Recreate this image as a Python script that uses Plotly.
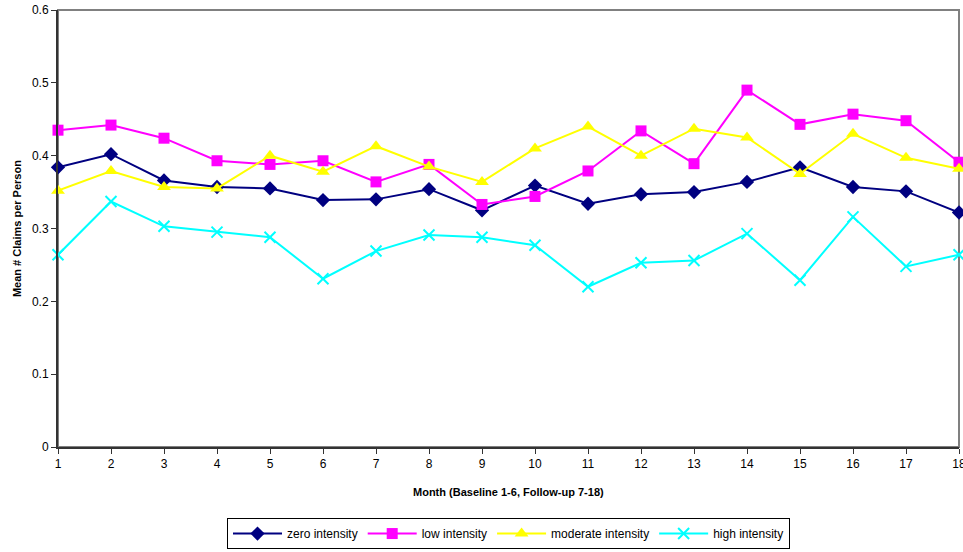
import plotly.graph_objects as go

# Months 1-18 (baseline 1-6, follow-up 7-18)
months = list(range(1, 19))

zero_intensity = [0.384, 0.402, 0.366, 0.357, 0.355, 0.339, 0.340, 0.354, 0.325,
                  0.359, 0.334, 0.347, 0.350, 0.364, 0.384, 0.357, 0.351, 0.322]
low_intensity = [0.435, 0.442, 0.424, 0.393, 0.388, 0.393, 0.364, 0.388, 0.333,
                 0.344, 0.379, 0.434, 0.389, 0.490, 0.443, 0.457, 0.448, 0.391]
moderate_intensity = [0.352, 0.379, 0.357, 0.355, 0.400, 0.378, 0.413, 0.385, 0.364,
                      0.410, 0.440, 0.400, 0.437, 0.425, 0.375, 0.430, 0.397, 0.382]
high_intensity = [0.264, 0.337, 0.303, 0.295, 0.288, 0.231, 0.269, 0.291, 0.288,
                  0.277, 0.220, 0.253, 0.256, 0.293, 0.229, 0.316, 0.248, 0.264]

y_ticks = [0, 0.1, 0.2, 0.3, 0.4, 0.5, 0.6]
y_tick_labels = ["0", "0.1", "0.2", "0.3", "0.4", "0.5", "0.6"]

series = [
    ("zero intensity", zero_intensity, "#000080", "diamond", 11),
    ("low intensity", low_intensity, "#FF00FF", "square", 11),
    ("moderate intensity", moderate_intensity, "#FFFF00", "triangle-up", 12),
    ("high intensity", high_intensity, "#00FFFF", "x-thin-open", 11),
]

FONT = "Liberation Sans, Arial, sans-serif"

fig = go.Figure()
for name, vals, color, symbol, size in series:
    marker = dict(symbol=symbol, size=size, color=color)
    if symbol == "x-thin-open":
        marker["line"] = dict(color=color, width=2)
    fig.add_trace(go.Scatter(
        x=months, y=vals, name=name, mode="lines+markers",
        line=dict(color=color, width=2),
        marker=marker, cliponaxis=False,
    ))

fig.update_layout(
    width=963, height=552,
    margin=dict(l=58, r=4, t=10, b=105, autoexpand=False),
    paper_bgcolor="white", plot_bgcolor="white",
    font=dict(family=FONT, size=12, color="#000000"),
    showlegend=True,
    legend=dict(
        orientation="h", x=0.5, xanchor="center", y=-0.2335, yanchor="bottom",
        bordercolor="#000000", borderwidth=1, font=dict(size=12),
        itemwidth=49, tracegroupgap=0,
    ),
    xaxis=dict(
        range=[1, 18], tickmode="array", tickvals=months,
        ticks="outside", ticklen=5, tickcolor="#333333",
        showline=True, linecolor="#333333", linewidth=2,
        showgrid=False, zeroline=False, fixedrange=True,
        ticklabeloverflow="allow",
    ),
    yaxis=dict(
        range=[0, 0.6], tickmode="array", tickvals=y_ticks, ticktext=y_tick_labels,
        ticks="outside", ticklen=5, tickcolor="#333333",
        showline=True, linecolor="#333333", linewidth=2,
        showgrid=False, zeroline=False, fixedrange=True,
    ),
    shapes=[dict(
        type="rect", xref="paper", yref="paper", x0=0, x1=1, y0=0, y1=1,
        line=dict(color="#808080", width=2), layer="below",
    )],
    annotations=[
        dict(text="<b>Month (Baseline 1-6, Follow-up 7-18)</b>",
             xref="paper", yref="paper", x=0.5, y=-0.103,
             xanchor="center", yanchor="middle", showarrow=False,
             font=dict(size=11, family=FONT)),
        dict(text="<b>Mean # Claims per Person</b>",
             xref="paper", yref="paper", x=-0.046, y=0.5,
             xanchor="center", yanchor="middle", showarrow=False,
             textangle=-90, font=dict(size=11, family=FONT)),
    ],
)

fig.write_html("out.html")
